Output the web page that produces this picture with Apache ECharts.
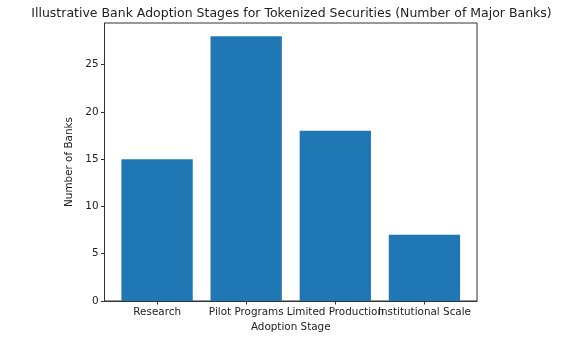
<!DOCTYPE html>
<html>
<head>
<meta charset="utf-8">
<script src="https://cdn.jsdelivr.net/npm/echarts@6/dist/echarts.min.js"></script>
<style>html,body{margin:0;padding:0;background:#fff}#c{width:583px;height:339px}</style>
</head>
<body>
<div id="c"></div>
<script>
const categories = ["Research", "Pilot Programs", "Limited Production", "Institutional Scale"];
const banks = [15, 28, 18, 7];
const yTicks = [0, 5, 10, 15, 20, 25];

const font = 'DejaVu Sans';
const chart = echarts.init(document.getElementById('c'), null, {renderer: 'canvas'});
const xPos = categories.map((_, i) => i);
chart.setOption({
  animation: false,
  title: {
    text: 'Illustrative Bank Adoption Stages for Tokenized Securities (Number of Major Banks)',
    left: 'center', top: 2,
    textStyle: {fontFamily: font, fontSize: 12.5, fontWeight: 'normal', color: '#222'}
  },
  grid: [
    {left: 104.5, top: 23, right: 106, bottom: 38, show: true, borderColor: '#333', borderWidth: 1, backgroundColor: 'transparent'},
    {left: 112.6, top: 23, right: 114, bottom: 38, show: false}
  ],
  xAxis: [{
    type: 'value', min: -0.59, max: 3.59, gridIndex: 0,
    name: 'Adoption Stage', nameLocation: 'middle', nameGap: 21,
    nameTextStyle: {fontFamily: font, fontSize: 10.4, color: '#222'},
    splitLine: {show: false},
    axisLine: {show: true, onZero: false, lineStyle: {color: '#333', width: 1}},
    axisTick: {show: true, length: 3.5, customValues: xPos, lineStyle: {color: '#333'}},
    axisLabel: {show: false}
  }, {
    type: 'category', gridIndex: 1, data: categories,
    axisLine: {show: false}, axisTick: {show: false}, splitLine: {show: false},
    axisLabel: {interval: 0, hideOverlap: false, fontFamily: font, fontSize: 10.4, color: '#222', margin: 6}
  }],
  yAxis: [{
    type: 'value', min: 0, max: 29.4, gridIndex: 0,
    name: 'Number of Banks', nameLocation: 'middle', nameGap: 27,
    nameTextStyle: {fontFamily: font, fontSize: 10.4, color: '#222'},
    splitLine: {show: false},
    axisLine: {show: true, onZero: false, lineStyle: {color: '#333', width: 1}},
    axisTick: {show: true, length: 3.5, customValues: yTicks, lineStyle: {color: '#333'}},
    axisLabel: {customValues: yTicks, fontFamily: font, fontSize: 10.4, color: '#222', margin: 6}
  }, {
    type: 'value', gridIndex: 1, show: false
  }],
  series: [{
    type: 'bar', xAxisIndex: 0, yAxisIndex: 0,
    data: banks.map((v, i) => [xPos[i], v]),
    barWidth: 71.3,
    itemStyle: {color: '#1f77b4'}
  }]
});
</script>
</body>
</html>
